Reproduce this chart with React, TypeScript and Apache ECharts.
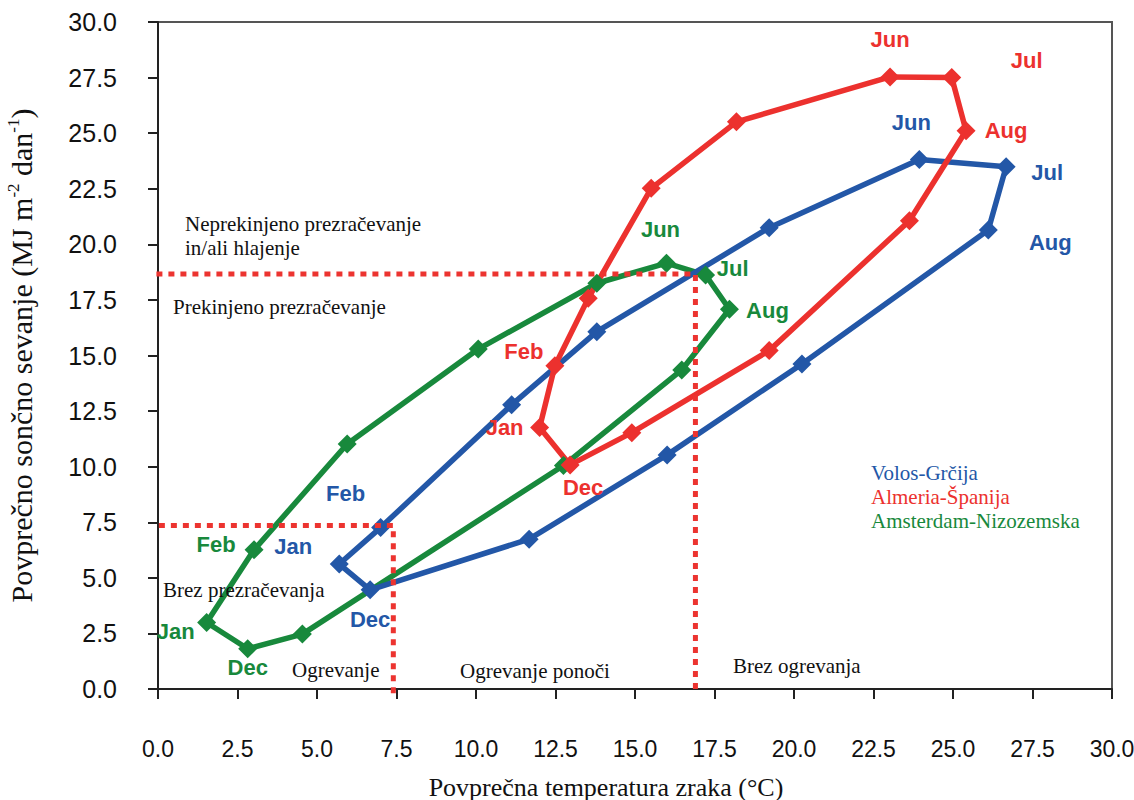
import React, { useEffect, useRef } from "react";
import * as echarts from "echarts";

// ---- data ----
const months = ["Jan", "Feb", "Mar", "Apr", "May", "Jun", "Jul", "Aug", "Sep", "Oct", "Nov", "Dec"];
const labelledMonths = ["Jan", "Feb", "Jun", "Jul", "Aug", "Dec"];

const volosTemp = [5.7, 7.0, 11.12, 13.8, 19.22, 23.94, 26.67, 26.11, 20.25, 16.01, 11.67, 6.67];
const volosRad = [5.62, 7.26, 12.78, 16.07, 20.75, 23.82, 23.49, 20.64, 14.62, 10.53, 6.74, 4.46];

const almeriaTemp = [12.0, 12.48, 13.53, 15.51, 18.19, 23.02, 24.96, 25.41, 23.63, 19.22, 14.9, 12.96];
const almeriaRad = [11.76, 14.54, 17.57, 22.52, 25.51, 27.53, 27.5, 25.11, 21.06, 15.22, 11.53, 10.08];

const amsterdamTemp = [1.53, 3.02, 5.95, 10.07, 13.8, 15.99, 17.22, 17.97, 16.47, 12.75, 4.54, 2.82];
const amsterdamRad = [2.99, 6.26, 11.02, 15.29, 18.25, 19.15, 18.62, 17.08, 14.35, 10.05, 2.47, 1.81];

// threshold (dotted) lines: [temperature, radiation]
const ventilationLine = [[-0.05, 18.67], [16.9, 18.67], [16.9, 0]];
const heatingLine = [[-0.35, 7.35], [7.4, 7.35], [7.4, -0.2]];

const axisTicks = [0, 30, 2.5]; // min, max, interval

const seriesNames = ["Volos-Grčija", "Almeria-Španija", "Amsterdam-Nizozemska"];

// ---- styling ----
const BLUE = "#2357a7";
const RED = "#ec312e";
const GREEN = "#18893c";
const DOT = "#ec3430";

const labelOffsets: Record<string, Record<string, number[]>> = {
  volos: { Jun: [-8, -37], Jul: [41, 6], Aug: [62, 12], Feb: [-35, -34], Jan: [-46, -18], Dec: [0, 30] },
  almeria: { Jun: [0, -37], Jul: [75, -17], Aug: [40, 0], Feb: [-31, -14], Jan: [-35, 0], Dec: [13, 23] },
  amsterdam: { Jun: [-6, -34], Jul: [27, -7], Aug: [38, 1], Feb: [-38, -5], Jan: [-31, 9], Dec: [0, 19] },
};

function buildLoop(key: string, xs: number[], ys: number[], color: string) {
  const data: any[] = months.map((m, i) => {
    const item: any = { value: [xs[i], ys[i]], name: m };
    if (labelledMonths.includes(m)) {
      item.label = {
        show: true,
        formatter: m,
        position: "inside",
        offset: labelOffsets[key][m],
        color,
        fontSize: 22,
        fontWeight: "bold",
        fontFamily: "Liberation Sans, Arial, sans-serif",
      };
    }
    return item;
  });
  // close the loop back to January
  data.push({ value: [xs[0], ys[0]], name: months[0], symbol: "none" });
  return data;
}

export default function App() {
  const ref = useRef<HTMLDivElement>(null);

  useEffect(() => {
    if (!ref.current) return;
    const chart = echarts.init(ref.current, undefined, { renderer: "svg" });

    const serif = "Liberation Serif, Times New Roman, serif";

    const lineSeries = (name: string, key: string, xs: number[], ys: number[], color: string) => ({
      name,
      type: "line",
      data: buildLoop(key, xs, ys, color),
      symbol: "diamond",
      symbolSize: 19,
      showSymbol: true,
      lineStyle: { color, width: 5.5 },
      itemStyle: { color },
      label: { show: false },
      emphasis: { disabled: true },
      clip: false,
      z: 3,
    });

    const dotted = (data: number[][]) => ({
      type: "line",
      data,
      symbol: "none",
      lineStyle: { color: DOT, width: 5, type: [6, 6], cap: "butt" },
      clip: false,
      silent: true,
      z: 4,
    });

    const axisCommon = {
      type: "value",
      min: axisTicks[0],
      max: axisTicks[1],
      interval: axisTicks[2],
      nameMoveOverlap: false,
      splitLine: { show: false },
      axisLine: { show: true, onZero: false, lineStyle: { color: "#222", width: 2 } },
      axisTick: { show: true, inside: false, length: 10, lineStyle: { color: "#222", width: 2 } },
    };

    const texts: [string, number, number, string][] = [
      ["Neprekinjeno prezračevanje", 185, 224, "#111"],
      ["in/ali hlajenje", 185, 248, "#111"],
      ["Prekinjeno prezračevanje", 173, 307, "#111"],
      ["Brez prezračevanja", 163, 590, "#111"],
      ["Ogrevanje", 292, 670, "#111"],
      ["Ogrevanje ponoči", 460, 671, "#111"],
      ["Brez ogrevanja", 733, 666, "#111"],
      [seriesNames[0], 871, 473, BLUE],
      [seriesNames[1], 871, 497, RED],
      [seriesNames[2], 871, 521, GREEN],
    ];

    chart.setOption({
      animation: false,
      backgroundColor: "#ffffff",
      grid: {
        left: 158,
        right: 22,
        top: 22,
        bottom: 111,
        show: true,
        borderColor: "#555",
        borderWidth: 2,
        containLabel: false,
        outerBoundsMode: "none",
      },
      xAxis: {
        ...axisCommon,
        name: "Povprečna temperatura zraka (°C)",
        nameLocation: "middle",
        nameGap: 85,
        nameTextStyle: { fontFamily: serif, fontSize: 26, color: "#111", padding: [0, 58, 0, 0] },
        axisLabel: {
          margin: 48,
          fontSize: 23,
          color: "#111",
          fontFamily: "Liberation Sans Narrow, Arial Narrow, Liberation Sans, sans-serif",
          formatter: (v: number) => v.toFixed(1),
        },
      },
      yAxis: {
        ...axisCommon,
        name: "Povprečno sončno sevanje (MJ m{sup|-2} dan{sup|-1})",
        nameLocation: "middle",
        nameGap: 121,
        nameRotate: 90,
        nameTextStyle: {
          fontFamily: serif,
          fontSize: 30,
          color: "#111",
          lineHeight: 32,
          rich: {
            sup: { fontFamily: serif, fontSize: 17, verticalAlign: "top", lineHeight: 20, color: "#111" },
          },
        },
        axisLabel: {
          margin: 41,
          fontSize: 25,
          color: "#111",
          fontFamily: "Liberation Sans, Arial, sans-serif",
          formatter: (v: number) => v.toFixed(1),
        },
      },
      series: [
        lineSeries(seriesNames[2], "amsterdam", amsterdamTemp, amsterdamRad, GREEN),
        lineSeries(seriesNames[0], "volos", volosTemp, volosRad, BLUE),
        lineSeries(seriesNames[1], "almeria", almeriaTemp, almeriaRad, RED),
        dotted(ventilationLine),
        dotted(heatingLine),
      ],
      graphic: texts.map(([t, x, y, c]) => ({
        type: "text",
        x,
        y,
        z: 10,
        style: {
          text: t,
          fill: c,
          fontSize: 21,
          fontFamily: serif,
          align: "left",
          verticalAlign: "middle",
        },
      })),
    });

    return () => chart.dispose();
  }, []);

  return (
    <div
      ref={ref}
      style={{ position: "absolute", left: 0, top: 0, width: 1134, height: 800, background: "#fff" }}
    />
  );
}
